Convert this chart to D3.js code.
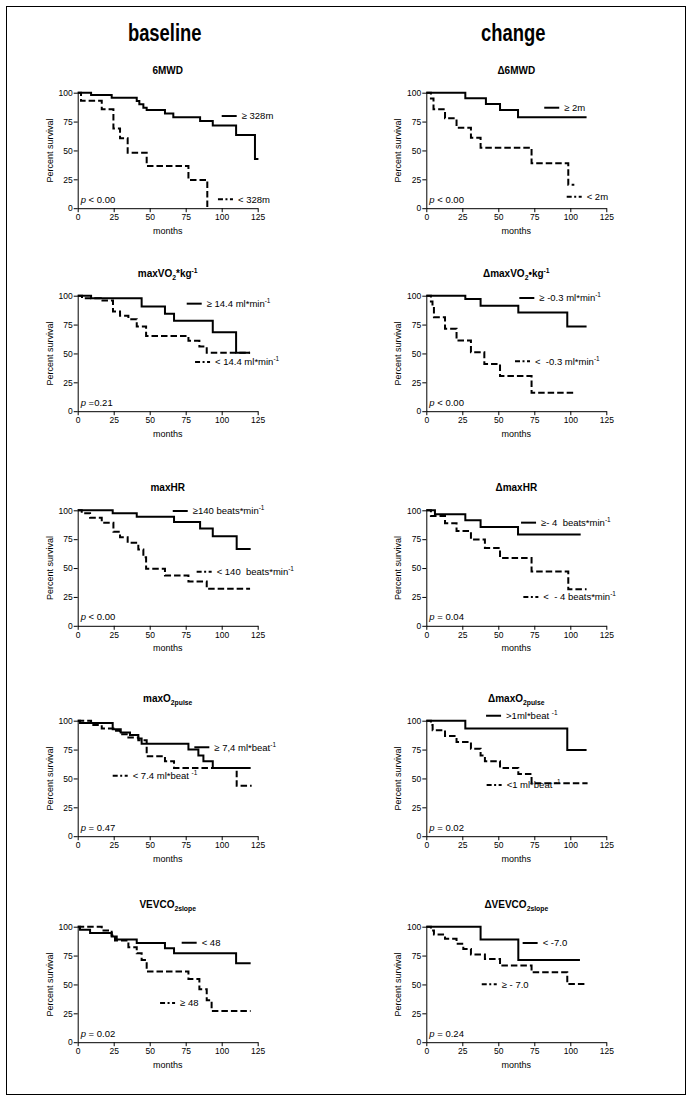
<!DOCTYPE html>
<html><head><meta charset="utf-8">
<script src="https://cdn.jsdelivr.net/npm/d3@7"></script>
<style>
body{margin:0;background:#fff}
svg text{font-family:"Liberation Sans",Arial,Helvetica,sans-serif;fill:#000;white-space:pre}
</style>
</head><body>
<svg id="c" width="694" height="1102" xml:space="preserve"></svg>
<script>
// ---------- DATA ----------
const columnHeaders = ["baseline", "change"];
const panelTitles = ["6MWD", "\u03946MWD", "maxVO_{2}*kg^{-1}", "\u0394maxVO_{2}\u2022kg^{-1}",
  "maxHR", "\u0394maxHR", "maxO_{2pulse}", "\u0394maxO_{2pulse}", "VEVCO_{2slope}", "\u0394VEVCO_{2slope}"];
const xTicks = [0, 25, 50, 75, 100, 125];
const yTicks = [0, 25, 50, 75, 100];
const xLabel = "months";
const yLabel = "Percent survival";
const pLabels = ["< 0.00", "< 0.00", "=0.21", "< 0.00", "< 0.00", "= 0.04", "= 0.47", "= 0.02", "= 0.02", "= 0.24"];
const legendSolid = ["\u2265 328m", "\u2265 2m", "\u2265 14.4 ml*min^{-1}", "\u2265 -0.3 ml*min^{-1}",
  "\u2265140 beats*min^{-1}", "\u2265- 4  beats*min^{-1}", "\u2265 7,4 ml*beat^{-1}", ">1ml*beat ^{-1}", "< 48", "< -7.0"];
const legendDashed = ["< 328m", "< 2m", "< 14.4 ml*min^{-1}", "<  -0.3 ml*min^{-1}",
  "< 140  beats*min^{-1}", "<  - 4 beats*min^{-1}", "< 7.4 ml*beat ^{-1}", "<1 ml*beat ^{-1}", "\u2265 48", "\u2265 - 7.0"];

// survival step curves: times (months) at which survival changes, and survival (%) from that time on
const solidTimes = [
  [0, 9.3, 23.6, 41, 42.8, 45.6, 47.9, 60.6, 66.4, 85, 93.8, 110, 123.1, 125.5],
  [0, 27.1, 41.4, 51.2, 63.7, 111.3],
  [0, 9.3, 44.4, 60.6, 66.9, 93.8, 110, 119.7],
  [0, 27.1, 37.7, 63.9, 97.9, 111.3],
  [0, 24.3, 41, 66.9, 85, 93.8, 110.4, 120.1],
  [0, 6, 27.1, 37.7, 63.7, 107.2],
  [0, 1.6, 24.3, 29.9, 36.3, 42.1, 44.4, 76.9, 83.8, 87.3, 93.8, 120.1],
  [0, 27.1, 97.9, 111.3],
  [0, 1.6, 8.6, 23.6, 27.1, 41, 60.6, 66.9, 110, 120.1],
  [0, 37.7, 63.9, 106.7]
];
const solidSurv = [
  [100, 98, 95.7, 92.8, 89.9, 87, 85, 82.1, 78.7, 75.5, 71.5, 63.4, 42.7, 42.7],
  [100, 95.1, 90.2, 85, 78.7, 78.7],
  [100, 97.7, 90.7, 84.3, 78.3, 68.4, 50.7, 50.7],
  [100, 97.1, 91.3, 85.5, 73.3, 73.3],
  [100, 97.4, 94.5, 89.8, 84.3, 77.6, 66.6, 66.6],
  [100, 96.5, 91.3, 85.5, 79.1, 79.1],
  [100, 98, 92.7, 89.8, 87.7, 84.5, 80.1, 75.1, 69.9, 64.9, 59.1, 59.1],
  [100, 93.3, 74.6, 74.6],
  [100, 97.4, 94.5, 91.6, 89, 85.8, 81.4, 77, 68.3, 68.3],
  [100, 89, 71.2, 71.2]
];
const dashedTimes = [
  [0, 2.3, 16.7, 24.8, 29.4, 34.7, 47.9, 76.9, 90],
  [0, 3.2, 5, 13, 21, 31, 37.7, 73.1, 98.6, 102.8],
  [0, 3, 16, 24.5, 29.4, 35.2, 41, 47.5, 76.9, 84.5, 89.6, 119.7],
  [0, 3.2, 4.3, 5.3, 13, 21, 31, 40.3, 51.2, 73.1, 103.2],
  [0, 2.8, 8.6, 16.7, 24.8, 29.4, 34.7, 42.1, 45.6, 47.5, 60.6, 76.9, 89.6, 119.7],
  [0, 3.2, 13, 21, 31, 40.7, 51.2, 73.1, 98.6, 111.3],
  [0, 9.3, 16.7, 24.8, 29.4, 35.2, 42.1, 47.9, 60.6, 66.9, 110.4, 120.8],
  [0, 3.2, 4.4, 13, 21, 31, 37.7, 40.7, 51.2, 63.9, 73.1, 112],
  [0, 16.7, 23.6, 25.9, 35.2, 41, 44.4, 47.9, 76.9, 84.5, 89.6, 93, 120.1],
  [0, 3.2, 5.3, 13, 21, 25.7, 31, 40.7, 51.2, 73.1, 97.9, 111.3]
];
const dashedSurv = [
  [100, 93, 85.6, 69, 60.5, 48, 36.6, 24.5, 0],
  [100, 95, 85.6, 77.8, 69.7, 61, 52.4, 38.9, 20.2, 20.2],
  [100, 97.9, 95.9, 86.4, 82.6, 79.7, 73.3, 65.2, 60.9, 56, 50.7, 50.7],
  [100, 95, 90.7, 81.4, 71.3, 61.2, 51, 40.9, 30.4, 15.9, 15.9],
  [100, 97.4, 93.6, 89.2, 81.4, 76.7, 71.8, 66, 59.3, 49.4, 43.6, 38.4, 32, 32],
  [100, 95, 88.7, 82, 74.7, 67.4, 58.7, 47.1, 31.7, 31.7],
  [100, 96.2, 93.3, 91.2, 88.3, 85.4, 83, 69.3, 64.9, 59.1, 43.6, 43.6],
  [100, 96.2, 91.8, 86.8, 81.6, 75.7, 69.9, 64.9, 59.1, 53.8, 45.9, 45.9],
  [100, 96.8, 92.4, 88.1, 82.3, 77, 71.2, 61.3, 54.7, 45.9, 36.3, 27, 27],
  [100, 96.8, 93.3, 89.5, 85.2, 80.8, 75.9, 72.1, 66.3, 60.5, 50.3, 50.3]
];

// ---------- LAYOUT ----------
const colX0 = [77.7, 426.3];
const plotW = 180;
const rowTop = [92.7, 295.7, 510.3, 720.7, 926.7];
const plotH = 115.5;
// legend anchors in data coords [monthSolid, pctSolid, monthDashed, pctDashed]
const legendAt = [
  [100, 79.8, 97.4, 7.7],
  [81.9, 87, 97.5, 10],
  [75.7, 93.1, 81.5, 42.6],
  [64.6, 98, 61.6, 43.2],
  [66, 99.4, 82.6, 46.8],
  [65.8, 89.3, 67.4, 24.9],
  [81, 77, 24.3, 52.4],
  [41.5, 104.3, 41.9, 44.3],
  [72.2, 86.1, 57.2, 33.9],
  [66.9, 85.9, 38.5, 50.1]
];

const svg = d3.select("#c");
svg.append("rect").attr("x", 6.5).attr("y", 6.5).attr("width", 679).attr("height", 1088)
  .attr("fill", "none").attr("stroke", "#000").attr("stroke-width", 1);

function rich(sel, str, fs) {
  const re = /_\{([^}]*)\}|\^\{([^}]*)\}|([^_^]+)/g;
  let m, shift = 0;
  while ((m = re.exec(str))) {
    let t, target;
    if (m[1] !== undefined) { t = m[1]; target = fs * 0.3; }
    else if (m[2] !== undefined) { t = m[2]; target = -fs * 0.42; }
    else { t = m[3]; target = 0; }
    const ts = sel.append("tspan").attr("dy", target - shift).text(t);
    if (target !== 0) ts.attr("font-size", fs * 0.68);
    shift = target;
  }
}

columnHeaders.forEach((h, c) => {
  svg.append("text").attr("transform", `translate(${colX0[c] + plotW / 2 - 3},41) scale(0.8,1.05)`)
    .attr("text-anchor", "middle").attr("font-size", 23).attr("font-weight", "bold").text(h);
});

const line = (x, y) => d3.line().x(d => x(d[0])).y(d => y(d[1])).curve(d3.curveStepAfter);

panelTitles.forEach((title, i) => {
  const col = i % 2, row = Math.floor(i / 2);
  const x = d3.scaleLinear().domain([0, 125]).range([colX0[col], colX0[col] + plotW]);
  const y = d3.scaleLinear().domain([0, 100]).range([rowTop[row] + plotH, rowTop[row]]);
  const g = svg.append("g");

  const t = g.append("text").attr("x", x(62.5)).attr("y", rowTop[row] - 19)
    .attr("text-anchor", "middle").attr("font-size", 10).attr("font-weight", "bold");
  rich(t, title, 10);

  const ax = g.append("g").attr("transform", `translate(0,${y(0)})`)
    .call(d3.axisBottom(x).tickValues(xTicks).tickSize(4).tickSizeOuter(0).tickPadding(2));
  const ay = g.append("g").attr("transform", `translate(${x(0)},0)`)
    .call(d3.axisLeft(y).tickValues(yTicks).tickSize(4).tickSizeOuter(0).tickPadding(1));
  [ax, ay].forEach(a => {
    a.attr("font-family", null).attr("font-size", null);
    a.selectAll("text").attr("font-size", 8.5).attr("fill", "#000");
    a.selectAll("line,path").attr("stroke", "#000").attr("stroke-width", 1);
  });

  g.append("text").attr("x", x(62.5)).attr("y", y(0) + 25.5).attr("text-anchor", "middle")
    .attr("font-size", 9).text(xLabel);
  g.append("text").attr("transform", `translate(${x(0) - 28},${y(50)}) rotate(-90)`)
    .attr("text-anchor", "middle").attr("dy", "0.35em").attr("font-size", 9).text(yLabel);

  const pt = g.append("text").attr("x", x(0) + 3).attr("y", y(0) - 5.5).attr("font-size", 9.5);
  pt.append("tspan").attr("font-style", "italic").text("p");
  pt.append("tspan").text(" " + pLabels[i]);

  const sPts = solidTimes[i].map((tt, j) => [tt, solidSurv[i][j]]);
  const dPts = dashedTimes[i].map((tt, j) => [tt, dashedSurv[i][j]]);
  g.append("path").attr("d", line(x, y)(dPts)).attr("fill", "none").attr("stroke", "#000")
    .attr("stroke-width", 2).attr("stroke-dasharray", "6.5,3");
  g.append("path").attr("d", line(x, y)(sPts)).attr("fill", "none").attr("stroke", "#000")
    .attr("stroke-width", 2);

  const L = legendAt[i];
  const sx = x(L[0]), sy = y(L[1]), dx = x(L[2]), dy = y(L[3]);
  g.append("line").attr("x1", sx).attr("x2", sx + 15).attr("y1", sy).attr("y2", sy)
    .attr("stroke", "#000").attr("stroke-width", 2);
  const ls = g.append("text").attr("x", sx + 20).attr("y", sy + 3.3).attr("font-size", 9.5);
  rich(ls, legendSolid[i], 9.5);
  g.append("line").attr("x1", dx).attr("x2", dx + 15).attr("y1", dy).attr("y2", dy)
    .attr("stroke", "#000").attr("stroke-width", 2).attr("stroke-dasharray", "5,2.5,2,2.5,5");
  const ld = g.append("text").attr("x", dx + 20).attr("y", dy + 3.3).attr("font-size", 9.5);
  rich(ld, legendDashed[i], 9.5);
});
</script>
</body></html>
